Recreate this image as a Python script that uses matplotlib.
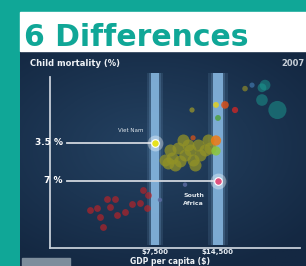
import numpy as np
import matplotlib
matplotlib.use("Agg")
import matplotlib.pyplot as plt
from matplotlib.patches import Rectangle

W, H = 306, 266
TEAL = "#10a797"

title = "6 Differences"
y_title = "Child mortality (%)"
x_title = "GDP per capita ($)"
year = "2007"

# highlighted countries
hl_names = ["Viet Nam", "South\nAfrica"]
hl_gdp = [7500, 14500]
hl_mort = [3.5, 7.0]
hl_colors = ["#e6e21e", "#e0527e"]
tick_labels = ["$7,500", "$14,500"]
mort_labels = ["3.5 %", "7 %"]

# background bubbles
asia_gdp = [8330, 8780, 8960, 9540, 9740, 10270, 10820, 11170, 11760, 12010,
            12660, 13080, 9250, 8600, 10600, 11400, 13340, 10050]
asia_mort = [4.77, 3.98, 4.60, 3.84, 4.90, 4.36, 3.98, 4.77, 3.63, 4.36,
             3.98, 3.31, 5.23, 5.04, 3.63, 5.23, 3.84, 3.31]

africa_gdp = [3800, 4090, 4540, 4930, 5020, 4220, 5900, 6410, 6900, 4350, 4680, 5480, 6600, 7000]
africa_mort = [11.9, 11.5, 9.7, 9.7, 13.0, 13.6, 10.6, 10.4, 11.5, 16.3, 11.3, 12.3, 8.25, 9.04]

rich_gdp = [23720, 22970, 27000, 22970]
rich_mort = [1.22, 1.60, 1.92, 1.28]
rich_size = [60, 70, 170, 40]

misc_gdp = [14200, 14200, 14200, 15600, 17330, 14500, 11050, 11170, 19240, 20700, 7900, 10270]
misc_mort = [3.35, 4.05, 1.75, 1.75, 1.92, 2.22, 1.92, 3.19, 1.30, 1.22, 9.9, 7.5]
misc_colors = ["#f07a12", "#8cc63a", "#e0d020", "#d8501a", "#c02828", "#50a040",
               "#8a8a30", "#c05020", "#7a7a30", "#3a6a9a", "#5a6aa0", "#5a6aa0"]
misc_size = [55, 45, 18, 30, 20, 18, 14, 14, 16, 14, 10, 10]


def fx(px):
    return px / W


def fy(py):
    return 1 - py / H


fig = plt.figure(figsize=(W / 100, H / 100), dpi=100)
fig.patch.set_facecolor(TEAL)

# white title box
fig.patches.append(Rectangle((fx(20), fy(51)), 1 - fx(20), fy(12) - fy(51),
                             transform=fig.transFigure, color="white", zorder=0))
fig.text(fx(24), fy(46), title, color=TEAL, fontsize=21.5, fontweight="heavy", va="baseline")

# dark panel with soft gradient
bg = fig.add_axes([fx(20), 0, 1 - fx(20), fy(51)])
yy, xx = np.mgrid[0:1:200j, 0:1:200j]
r = np.sqrt(((xx - 0.45) * 1.1) ** 2 + ((yy - 0.45) * 1.3) ** 2)
c0 = np.array([0x24, 0x42, 0x62]) / 255
c1 = np.array([0x14, 0x28, 0x42]) / 255
t = np.clip(r / 0.8, 0, 1)[..., None]
bg.imshow(c0 * (1 - t) + c1 * t, aspect="auto", extent=[0, 1, 0, 1])
bg.set_axis_off()

ax = fig.add_axes([fx(50), fy(248), fx(300) - fx(50), fy(72) - fy(248)])
ax.set_facecolor("none")
ax.set_xscale("log")
ax.set_yscale("log")
ax.set_xlim(2500, 34200)
ax.set_ylim(23.8, 0.96)

for s in ["top", "right"]:
    ax.spines[s].set_visible(False)
for s in ["left", "bottom"]:
    ax.spines[s].set_color("#c6ced8")
    ax.spines[s].set_linewidth(1.3)
ax.spines["left"].set_bounds(23.8, 1.05)

ax.set_xticks(hl_gdp)
ax.set_xticklabels(tick_labels, color="#e8eef4", fontsize=5, fontweight="bold")
ax.xaxis.set_minor_locator(matplotlib.ticker.NullLocator())
ax.yaxis.set_minor_locator(matplotlib.ticker.NullLocator())
ax.tick_params(axis="x", length=0, pad=1)
ax.set_yticks([])

# vertical highlight bands
for g, hw in zip(hl_gdp, [1.045, 1.055]):
    for k, a in [(1.9, 0.12), (1.4, 0.2), (1.0, 0.8)]:
        f = hw ** k
        ax.axvspan(g / f, g * f, ymin=0.017, ymax=0.994, color="#8dbfe9", alpha=a,
                   lw=0, zorder=1)

# background countries
ax.scatter(africa_gdp, africa_mort, s=24, color="#c02226", alpha=0.65, lw=0, zorder=2)
ax.scatter(asia_gdp, asia_mort, s=75, color="#929226", alpha=0.75, lw=0, zorder=2)
ax.scatter(rich_gdp, rich_mort, s=rich_size, color="#1a9d92", alpha=0.5, lw=0, zorder=2)
ax.scatter(misc_gdp, misc_mort, s=misc_size, color=misc_colors, alpha=0.85, lw=0, zorder=3)

# reference lines and highlighted countries
for g, m, c in zip(hl_gdp, hl_mort, hl_colors):
    ax.plot([2990, g], [m, m], color="#d0d6de", lw=1.3, zorder=3)
    ax.scatter([g], [m], s=130, color="white", alpha=0.35, lw=0, zorder=4)
    ax.scatter([g], [m], s=30, color=c, edgecolor="white", lw=0.8, zorder=5)

ytr = ax.get_yaxis_transform()
for m, lab in zip(hl_mort, mort_labels):
    ax.text(0.052, m, lab, transform=ytr, color="white", fontsize=6.5,
            fontweight="bold", ha="right", va="center", zorder=6)

ax.annotate(hl_names[0], (hl_gdp[0], hl_mort[0]), xytext=(-8, 8),
            textcoords="offset points", color="#dde4ea", fontsize=4, ha="right")
ax.annotate(hl_names[1], (hl_gdp[1], hl_mort[1]), xytext=(-10, -9),
            textcoords="offset points", color="#dde4ea", fontsize=4.5,
            fontweight="bold", ha="right", va="top", linespacing=1.6)

fig.text(fx(30), fy(63), y_title, color="#eef2f6", fontsize=6, fontweight="bold", va="center")
fig.text(fx(305), fy(64), year, color="#c8d0d8", fontsize=6, fontweight="bold",
         va="center", ha="right")
fig.text(fx(130), fy(261), x_title, color="#eef2f6", fontsize=5.5, fontweight="bold",
         va="center")
fig.patches.append(Rectangle((fx(22), 0), fx(48), fy(258), transform=fig.transFigure,
                             color="#7d8d9c", zorder=5))

fig.savefig("out.png", dpi=100, facecolor=TEAL)
